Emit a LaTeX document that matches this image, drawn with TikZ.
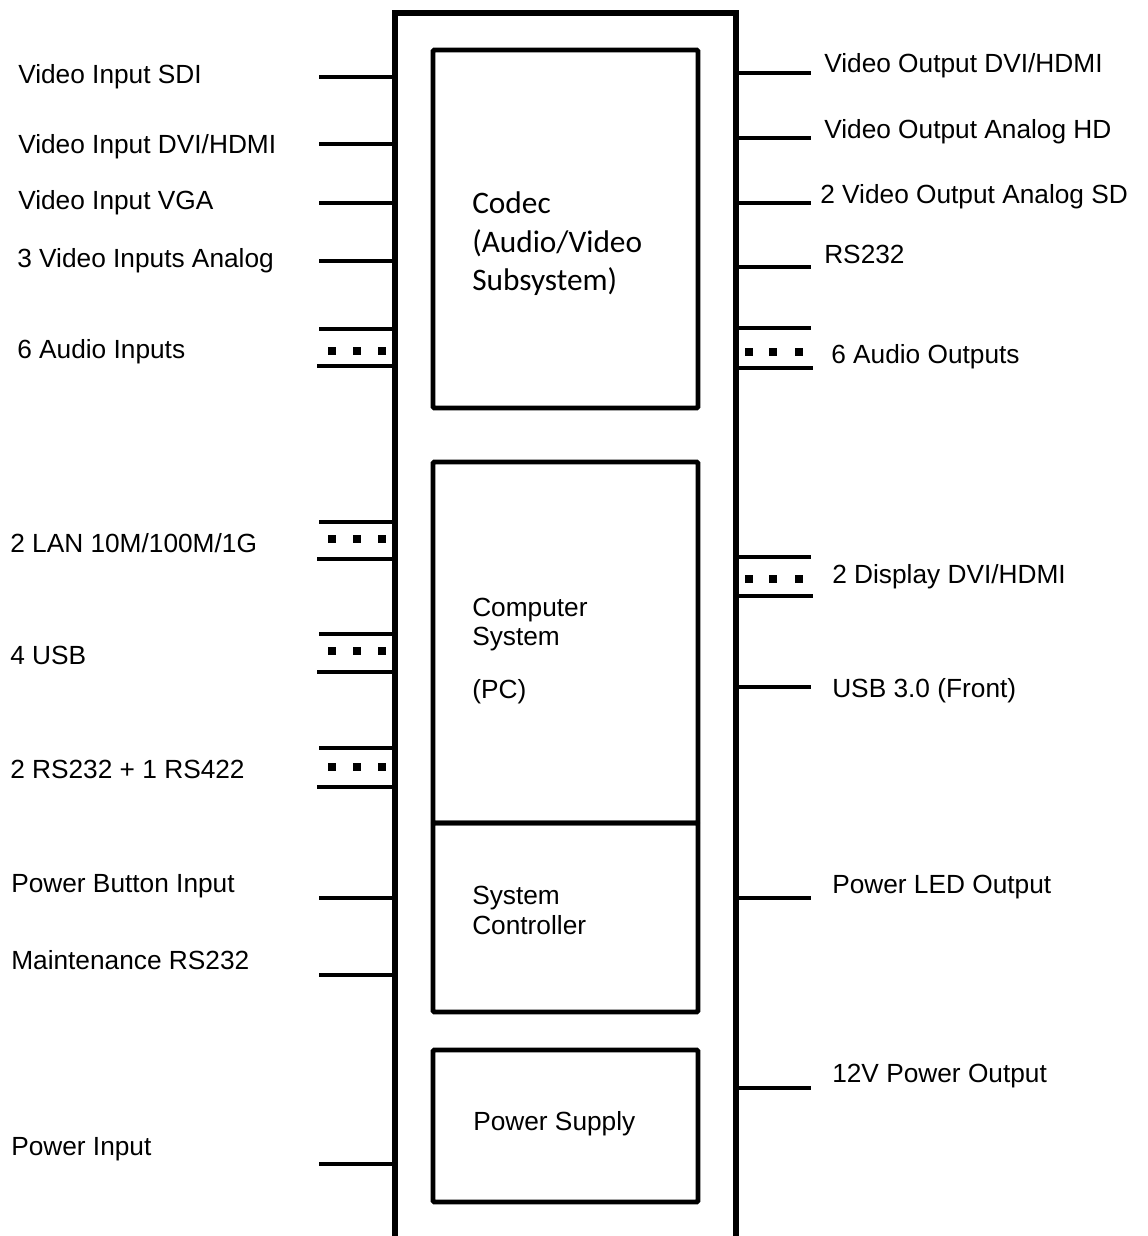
\documentclass[tikz,border=0pt]{standalone}
\usepackage{fontspec}
\setmainfont{Liberation Sans}
\newfontfamily\codecfont{Carlito}
\usetikzlibrary{fit}

\begin{document}
\begin{tikzpicture}[x=0.75pt, y=-0.75pt, font=\fontsize{19.7}{23}\selectfont,
  frame/.style={draw, line width=3.8pt, inner sep=0pt},
  unit/.style={draw, line width=3.4pt, inner sep=0pt, rounded corners=0.8pt},
  pin/.style={line width=2.6pt},
  lbl/.style={anchor=base west, inner sep=0pt},
  ulbl/.style={lbl, font=\codecfont\fontsize{23.5}{29}\selectfont},
  dot/.style={fill, inner sep=0pt, minimum size=5.8pt}]
\useasboundingbox (0,0) rectangle (1148,1236);
% Chassis and inner units
\node[frame, fit={(395,13) (736,1300)}] (chassis) {};
\node[unit, fit={(433,50) (698,408)}] (codec) {};
\node[unit, fit={(433,462) (698,823)}] (pc) {};
\node[unit, fit={(433,823) (698,1012)}] (ctrl) {};
\node[unit, fit={(433,1050) (698,1202)}] (psu) {};
\foreach \y/\t [count=\i] in {213/Codec, 252/{(Audio/Video}, 290/Subsystem)}
  \node[ulbl] (codec-\i) at (472,\y) {\t};
\foreach \y/\t [count=\i] in {616/Computer, 645/System, 698/(PC)}
  \node[lbl] (pc-\i) at (472,\y) {\t};
\foreach \y/\t [count=\i] in {904/System, 934/Controller}
  \node[lbl] (ctrl-\i) at (472,\y) {\t};
\node[lbl] (psu-1) at (473,1130) {Power Supply};
% Inputs (left side)
\foreach \y in {77, 144, 203, 261, 898, 975, 1164}
  \draw[pin] (chassis.west |- 0,\y) -- (319,\y);
\foreach \a/\d/\b in {329/351/366, 522/539/559, 634/651/672, 748/767/787} {
  \draw[pin] (chassis.west |- 0,\a) -- (319,\a);
  \draw[pin] (chassis.west |- 0,\b) -- (317,\b);
  \foreach \x in {332, 357, 382}
    \node[dot] at (\x,\d) {};
}
\foreach \x/\y/\t [count=\i] in {18/83/Video Input SDI, 18/153/Video Input DVI\slash HDMI,
    18/209/Video Input VGA, 17/267/3 Video Inputs Analog, 17/358/6 Audio Inputs,
    10/552/2 LAN 10M\slash 100M\slash 1G, 10/664/4 USB, 10/778/2 RS232 + 1 RS422,
    11/892/Power Button Input, 11/969/Maintenance RS232, 11/1155/Power Input}
  \node[lbl] (in-\i) at (\x,\y) {\t};
% Outputs (right side)
\foreach \y in {73, 138, 203, 267, 687, 898, 1088}
  \draw[pin] (chassis.east |- 0,\y) -- (811,\y);
\foreach \a/\d/\b in {328/352/368, 557/579/596} {
  \draw[pin] (chassis.east |- 0,\a) -- (811,\a);
  \draw[pin] (chassis.east |- 0,\b) -- (813,\b);
  \foreach \x in {749, 773, 799}
    \node[dot] at (\x,\d) {};
}
\foreach \x/\y/\t [count=\i] in {824/72/Video Output DVI\slash HDMI, 824/138/Video Output Analog HD,
    820/203/2 Video Output Analog SD, 824/263/RS232, 831/363/6 Audio Outputs,
    832/583/2 Display DVI\slash HDMI, 832/697/USB 3.0 (Front), 832/893/Power LED Output,
    832/1082/12V Power Output}
  \node[lbl] (out-\i) at (\x,\y) {\t};
\end{tikzpicture}
\end{document}
